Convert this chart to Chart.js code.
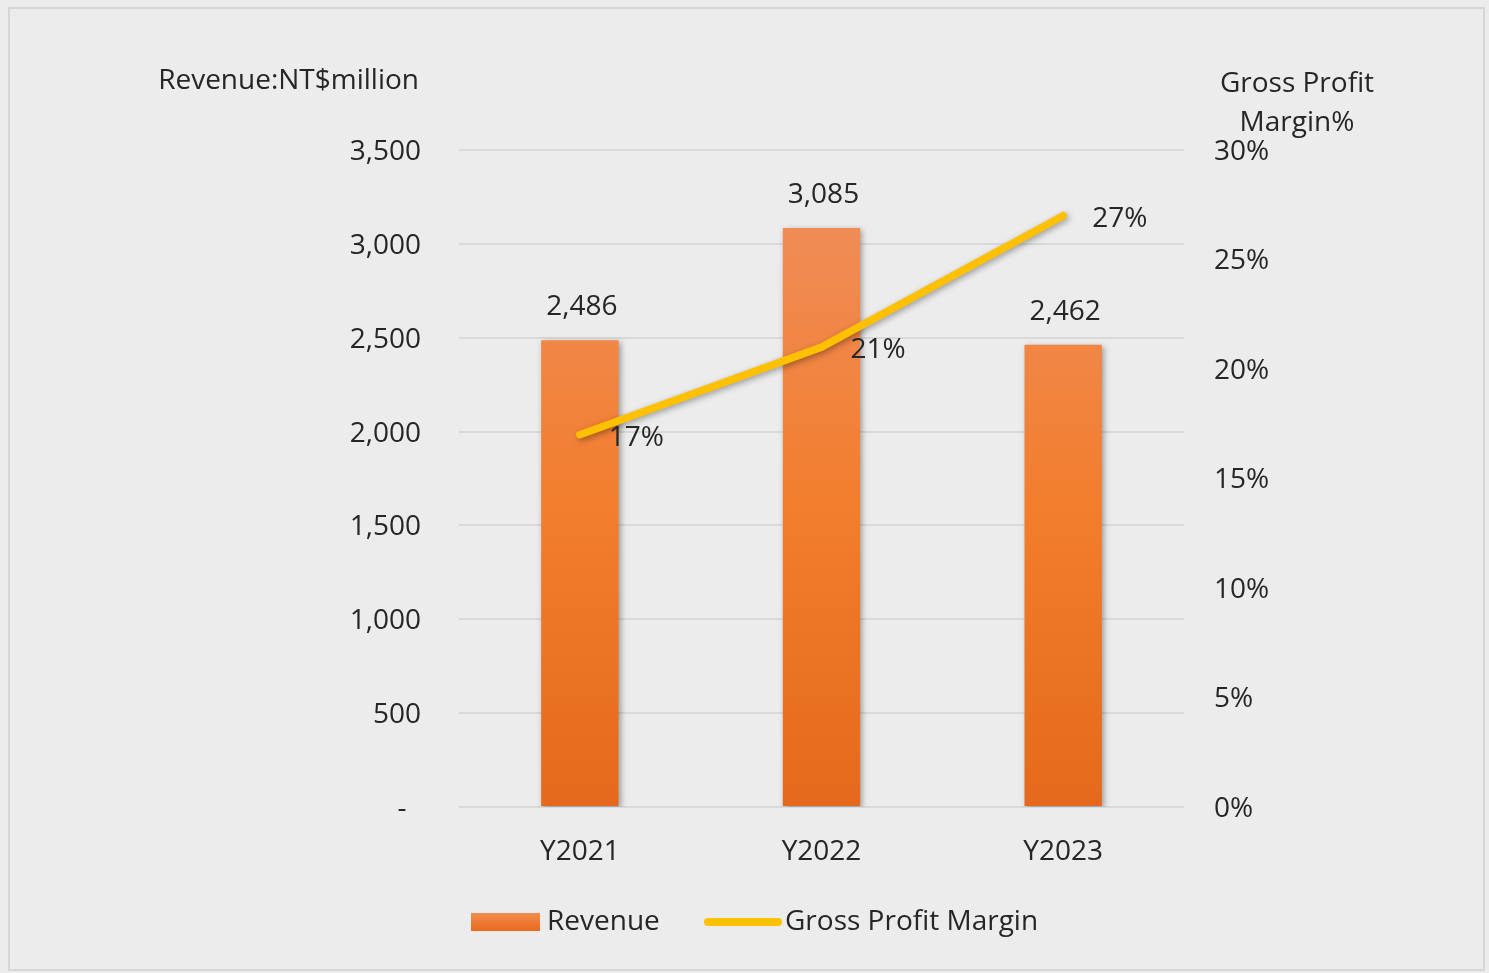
<!DOCTYPE html>
<html><head><meta charset="utf-8">
<script src="https://cdn.jsdelivr.net/npm/chart.js@4/dist/chart.umd.min.js"></script>
<style>
html,body{margin:0;padding:0;background:#ececec;}
#wrap{width:1489px;height:973px;position:relative;}
</style></head>
<body><div id="wrap"><canvas id="c" width="1489" height="973"></canvas></div>
<script>
const categories = ['Y2021','Y2022','Y2023'];
const revenue = [2486, 3085, 2462];
const grossMargin = [17, 21, 27];
const revenueTicks = [0,500,1000,1500,2000,2500,3000,3500];
const marginTicks = [0,5,10,15,20,25,30];
const leftTitle = 'Revenue:NT$million';
const rightTitle = ['Gross Profit','Margin%'];
const legendLabels = ['Revenue','Gross Profit Margin'];

const FONT = '"Open Sans", "Noto Sans", sans-serif';
const FS = 28;
const TXT = '#262626';

const fmt = v => v === 0 ? '-  ' : v.toLocaleString('en-US');

const decor = {
  id:'decor',
  beforeDraw(chart){
    const ctx = chart.ctx;
    ctx.save();
    ctx.fillStyle = '#ececec';
    ctx.fillRect(0,0,chart.width,chart.height);
    ctx.strokeStyle = '#d6d6d6';
    ctx.lineWidth = 2;
    ctx.strokeRect(9,8,1475,962);
    ctx.restore();
  },
  beforeDatasetDraw(chart,args){
    const ctx = chart.ctx;
    ctx.save();
    ctx.shadowColor = 'rgba(0,0,0,0.35)';
    ctx.shadowBlur = 6;
    ctx.shadowOffsetX = 2;
    ctx.shadowOffsetY = 2;
  },
  afterDatasetDraw(chart){ chart.ctx.restore(); },
  afterDraw(chart){
    const ctx = chart.ctx;
    ctx.save();
    ctx.fillStyle = TXT;
    ctx.font = FS + 'px ' + FONT;
    ctx.textBaseline = 'middle';
    ctx.textAlign = 'right';
    ctx.fillText(leftTitle, 419, 81);
    ctx.textAlign = 'center';
    ctx.fillText(rightTitle[0], 1297, 84);
    ctx.fillText(rightTitle[1], 1297, 123);
    const m0 = chart.getDatasetMeta(0);
    m0.data.forEach((el,i)=>{
      ctx.textAlign='center';
      ctx.fillText(fmt(revenue[i]), el.x + 2, el.y - 33);
    });
    const m1 = chart.getDatasetMeta(1);
    m1.data.forEach((el,i)=>{
      ctx.textAlign='left';
      ctx.fillText(grossMargin[i] + '%', el.x + 29, el.y + 3);
    });
    const ly = 922;
    const g = ctx.createLinearGradient(0, ly-9, 0, ly+9);
    g.addColorStop(0,'#f28c4e'); g.addColorStop(1,'#e8691c');
    ctx.fillStyle = g;
    ctx.fillRect(471, ly-9, 69, 18);
    ctx.fillStyle = TXT;
    ctx.textAlign='left';
    ctx.fillText(legendLabels[0], 547, ly);
    ctx.strokeStyle = '#ffc000';
    ctx.lineWidth = 8;
    ctx.lineCap = 'round';
    ctx.beginPath(); ctx.moveTo(708, ly); ctx.lineTo(778, ly); ctx.stroke();
    ctx.fillText(legendLabels[1], 785, ly);
    ctx.restore();
  }
};

const barGradient = (context) => {
  const ca = context.chart.chartArea;
  if (!ca) return '#ee7a30';
  const y = context.chart.scales.y;
  const g = context.chart.ctx.createLinearGradient(0, y.getPixelForValue(3085), 0, ca.bottom);
  g.addColorStop(0, '#f08c56');
  g.addColorStop(0.5, '#f27d2c');
  g.addColorStop(1, '#e4691c');
  return g;
};

new Chart(document.getElementById('c'), {
  data:{
    labels: categories,
    datasets:[
      {type:'bar', label:legendLabels[0], data:revenue, yAxisID:'y', backgroundColor:barGradient,
       categoryPercentage:1, barPercentage:0.32, order:2},
      {type:'line', label:legendLabels[1], data:grossMargin, yAxisID:'y1', borderColor:'#ffc000',
       borderWidth:7.5, borderCapStyle:'round', borderJoinStyle:'round', pointRadius:0, tension:0, order:1}
    ]
  },
  options:{
    responsive:false, animation:false,
    devicePixelRatio:1,
    layout:{padding:{top:150,bottom:0,left:0,right:0}},
    plugins:{legend:{display:false}, tooltip:{enabled:false}},
    scales:{
      x:{
        grid:{display:false, drawTicks:false}, border:{display:false},
        ticks:{color:TXT, font:{family:FONT,size:FS}, padding:28},
        afterFit(s){ s.height = 166; }
      },
      y:{
        position:'left', min:0, max:3500,
        afterBuildTicks(s){ s.ticks = revenueTicks.map(v=>({value:v})); },
        ticks:{color:TXT, font:{family:FONT,size:FS}, padding:38, labelOffset:2, callback:v=>fmt(v)},
        grid:{color:'#d9d9d9', lineWidth:2, drawTicks:false}, border:{display:false},
        afterFit(s){ s.width = 459; }
      },
      y1:{
        position:'right', min:0, max:30,
        afterBuildTicks(s){ s.ticks = marginTicks.map(v=>({value:v})); },
        ticks:{color:TXT, font:{family:FONT,size:FS}, padding:30, labelOffset:2, callback:v=>v+'%'},
        grid:{display:false, drawTicks:false}, border:{display:false},
        afterFit(s){ s.width = 1489-1184; }
      }
    }
  },
  plugins:[decor]
});
</script>
</body></html>
